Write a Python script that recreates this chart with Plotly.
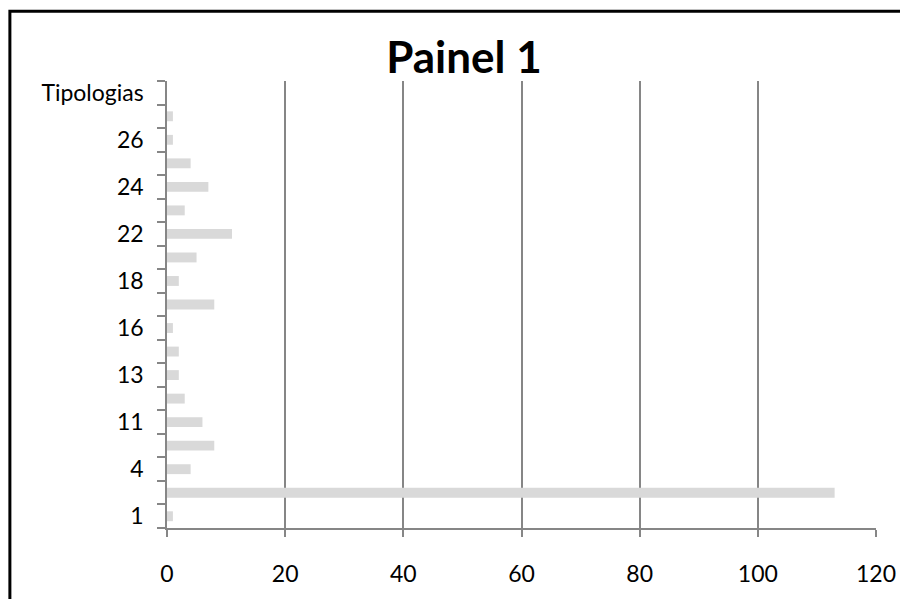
import plotly.graph_objects as go

categories = ["1", "3", "4", "10", "11", "12", "13", "14", "16", "17", "18", "21",
              "22", "23", "24", "25", "26", "27", "Tipologias"]
values = [1, 113, 4, 8, 6, 3, 2, 2, 1, 8, 2, 5, 11, 3, 7, 4, 1, 1, None]
shown_labels = [c if i % 2 == 0 else "" for i, c in enumerate(categories)]
x_ticks = [0, 20, 40, 60, 80, 100, 120]
title_text = "Painel 1"

# page body has an 8px margin, so the figure is drawn 8px right/down
OFF = 8
W, H = 908 - OFF, 599 - OFF
L = 167 - OFF
R = 908 - 880
T = 81 - OFF
B = H - (532 - OFF)
pw, ph = W - L - R, H - T - B

fig = go.Figure(go.Bar(
    x=values, y=categories, orientation="h",
    marker=dict(color="#d9d9d9", line=dict(width=0)),
    hoverinfo="x+y",
))

font_family = "Lato, 'Open Sans', sans-serif"

fig.update_layout(
    width=W, height=H,
    margin=dict(l=L, r=R, t=T, b=B),
    paper_bgcolor="white", plot_bgcolor="white",
    bargap=0.58,
    showlegend=False,
    title=dict(text="<b>" + title_text + "</b>", x=(464 - OFF) / W, xanchor="center",
               y=1 - (58 - OFF) / H, yanchor="middle",
               font=dict(family=font_family, size=44, color="black")),
    xaxis=dict(
        range=[0, 120], tickvals=x_ticks, ticks="outside", ticklen=7,
        tickcolor="#868686", tickwidth=1.5,
        showgrid=True, gridcolor="#868686", gridwidth=1.5,
        showline=True, linecolor="#868686", linewidth=1.5,
        zeroline=False, ticklabelstandoff=18,
        tickfont=dict(family=font_family, size=23, color="black"),
        fixedrange=True,
    ),
    yaxis=dict(
        type="category", categoryorder="array", categoryarray=categories,
        tickvals=categories, ticktext=shown_labels,
        tickson="boundaries", ticks="outside", ticklen=8,
        tickcolor="#868686", tickwidth=1.5,
        showline=True, linecolor="#868686", linewidth=1.5,
        showgrid=False, ticklabelstandoff=17,
        tickfont=dict(family=font_family, size=23, color="black"),
        fixedrange=True,
    ),
    shapes=[dict(
        type="rect", xref="paper", yref="paper",
        x0=(1 - L) / pw, x1=(W + 20 - L) / pw,
        y0=-(B + 20) / ph, y1=1 + (T - 2.5) / ph,
        line=dict(color="black", width=3), fillcolor="rgba(0,0,0,0)",
        layer="above",
    )],
)

fig.write_html("out.html")
